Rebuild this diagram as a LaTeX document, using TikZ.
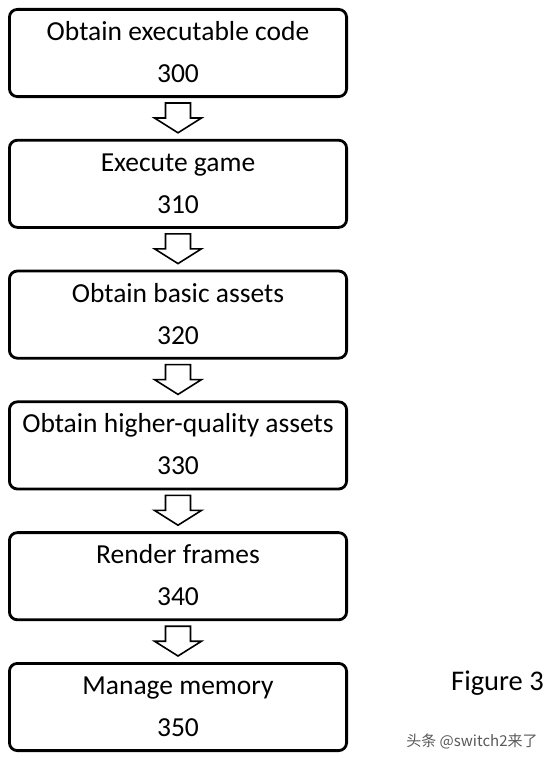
\documentclass[tikz,border=0pt]{standalone}
\usepackage{fontspec}
\setmainfont{Carlito}
\newfontfamily\cjkfont{Noto Sans CJK SC}
\usetikzlibrary{positioning,calc}
\definecolor{MarkClr}{rgb}{0.35,0.35,0.35}

\begin{document}
\begin{tikzpicture}[x=1pt,y=1pt,node distance=40.8pt]
\tikzset{stepbox/.style={draw,line width=2.8pt,rounded corners=8pt,
    minimum width=337.2pt,minimum height=87.2pt,inner sep=0pt,align=center,
    font=\fontsize{27.5}{42}\selectfont},
  blockarr/.style={draw,line width=1.6pt,fill=white,line join=miter}}
\useasboundingbox (0,0) rectangle (550,-760);

\node[stepbox] (b1) at (178,-53) {\strut Obtain executable code\\\strut 300};
\node[stepbox,below=of b1] (b2) {\strut Execute game\\\strut 310};
\node[stepbox,below=of b2] (b3) {\strut Obtain basic assets\\\strut 320};
\node[stepbox,below=of b3] (b4) {\strut Obtain higher-quality assets\\\strut 330};
\node[stepbox,below=of b4] (b5) {\strut Render frames\\\strut 340};
\node[stepbox,below=of b5] (b6) {\strut Manage memory\\\strut 350};

\foreach \a/\b in {b1/b2,b2/b3,b3/b4,b4/b5,b5/b6}
  \draw[blockarr] ($(\a.south)+(-12.5,-5)$) -- ++(0,-15) -- ++(-11,0)
    -- ($(\b.north)+(0,6)$) -- ($(\a.south)+(23.5,-20)$) -- ++(-11,0)
    -- ++(0,15) -- cycle;

\node[font=\fontsize{28.5}{32}\selectfont] (fig) at (497.5,-683) {Figure 3};
\node[font=\cjkfont\fontsize{15}{17}\selectfont,text=MarkClr] (mark) at (472,-741) {头条 @switch2来了};

\end{tikzpicture}
\end{document}
